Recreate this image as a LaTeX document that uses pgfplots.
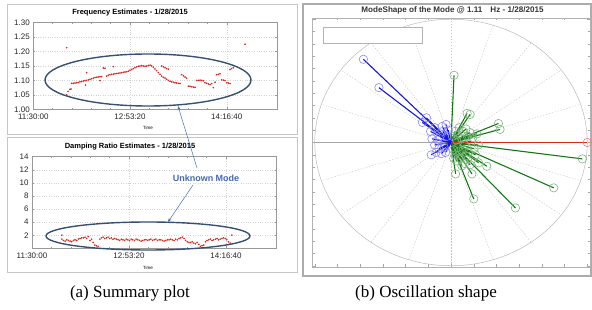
\documentclass[border=0pt]{standalone}
\usepackage{fontspec}
\setmainfont{Liberation Sans}
\newfontfamily\capfont{Liberation Serif}
\usepackage{pgfplots}
\pgfplotsset{compat=1.18}
\usepackage{pgfplotstable}
\usetikzlibrary{arrows.meta}
\definecolor{ellc}{RGB}{55,80,115}
\definecolor{arrc}{RGB}{70,110,170}
\definecolor{modeblue}{RGB}{70,105,170}
\definecolor{mgreen}{RGB}{20,120,20}
\definecolor{mblue}{RGB}{20,20,230}
\definecolor{mred}{RGB}{215,40,30}

\pgfplotstableread{
t f
43124 1.2135
43124 1.050
43200 1.062
43296 1.069
43350 1.070
43383 1.090
43469 1.090
43555 1.091
43641 1.092
43727 1.093
43814 1.095
43900 1.096
43986 1.098
44072 1.099
44158 1.100
44158 1.127
44100 1.084
44245 1.102
44331 1.104
44417 1.106
44503 1.108
44590 1.110
44676 1.111
44762 1.112
44848 1.100
44848 1.113
44934 1.113
45020 1.143
45106 1.142
45193 1.115
45279 1.118
45365 1.120
45451 1.121
45538 1.148
45538 1.122
45624 1.123
45710 1.124
45796 1.125
45882 1.126
45968 1.127
46055 1.128
46141 1.129
46227 1.130
46313 1.132
46400 1.135
46486 1.138
46572 1.141
46658 1.144
46744 1.147
46830 1.149
46917 1.150
47003 1.151
47089 1.150
47175 1.149
47262 1.150
47348 1.152
47434 1.153
47520 1.150
47606 1.146
47692 1.140
47779 1.134
47865 1.127
47951 1.121
48037 1.115
48124 1.111
48210 1.108
48296 1.104
48382 1.100
48468 1.097
48037 1.150
48124 1.147
48210 1.144
48296 1.141
48382 1.139
48554 1.095
48641 1.094
48727 1.092
48813 1.091
48900 1.090
48986 1.089
49072 1.120
49158 1.116
49244 1.112
49330 1.108
49416 1.080
49503 1.080
49589 1.078
49675 1.077
49761 1.076
49848 1.100
49934 1.100
50020 1.101
50106 1.100
50192 1.099
50279 1.092
50365 1.090
50451 1.088
50537 1.086
50624 1.089
50710 1.075
50796 1.094
50882 1.120
50968 1.121
51054 1.123
51140 1.102
51227 1.101
51313 1.100
51400 1.092
51486 1.091
51572 1.089
51572 1.138
51658 1.141
51744 1.144
52347 1.225
}\freqtab

\pgfplotstableread{
t d
42938 2.0
42938 1.4
43025 1.2
43110 1.1
43195 1.3
43280 1.2
43365 1.1
43450 1.0
43535 1.2
43620 1.3
43705 1.2
43790 1.4
43875 1.5
43960 1.6
44045 1.6
44130 1.7
44215 1.5
44300 1.8
44385 1.2
44470 1.4
44555 0.9
44640 0.5
44725 0.4
44810 0.3
44895 1.4
44980 1.6
45065 1.7
45150 1.5
45235 1.6
45320 1.7
45405 1.5
45490 1.6
45575 1.4
45660 1.5
45745 1.4
45830 1.3
45915 1.2
46000 1.4
46085 1.3
46170 1.2
46255 1.4
46340 1.3
46425 1.2
46510 1.4
46595 1.3
46680 1.2
46765 1.4
46850 1.3
46935 1.2
47020 1.1
47105 1.2
47190 1.3
47275 1.3
47360 1.2
47445 1.3
47530 1.4
47615 1.2
47700 1.3
47785 1.4
47870 1.2
47955 1.3
48040 1.3
48125 1.2
48210 1.1
48295 1.2
48380 1.3
48465 1.3
48550 1.4
48635 1.3
48720 1.2
48805 1.4
48890 1.3
48975 1.5
49060 1.6
49145 1.7
49230 1.5
49315 1.2
49400 1.0
49485 0.9
49570 0.9
49655 1.0
49740 0.8
49825 0.7
49910 0.9
49995 0.6
50080 0.3
50165 0.4
50250 0.5
50335 1.0
50420 1.2
50505 1.3
50590 1.4
50675 1.2
50760 1.3
50845 1.4
50930 1.5
51015 1.3
51100 1.4
51185 1.5
51270 1.6
51355 1.5
51440 1.3
51525 1.0
51610 0.8
51700 2.0
}\damptab

\pgfplotstableread{
x y u v
0 0 0.022 0.545
0 0 0.118 0.236
0 0 0.140 0.228
0 0 0.348 0.154
0 0 0.360 0.106
0 0 0.964 -0.133
0 0 0.754 -0.368
0 0 0.473 -0.531
0 0 0.167 -0.458
0 0 0.154 -0.255
0 0 0.034 -0.255
0 0 0.263 -0.193
0 0 0.203 -0.165
0 0 0.05 0.06
0 0 0.08 0.03
0 0 0.10 -0.02
0 0 0.06 -0.07
0 0 0.03 -0.10
0 0 0.12 0.05
0 0 0.09 0.09
0 0 0.04 0.02
0 0 0.05 -0.04
0 0 0.13 -0.08
0 0 0.07 -0.13
0 0 0.15 0.01
0 0 0.11 -0.11
0 0 0.02 -0.06
0 0 0.17 -0.05
0 0 0.14 0.08
0 0 0.06 0.12
0 0 0.10 -0.17
0 0 0.04 -0.15
0 0 0.18 -0.10
0 0 0.01 0.05
0 0 0.09 -0.06
0 0 0.12 -0.14
0 0 0.03 0.09
0 0 0.16 0.04
0 0 0.20 -0.02
0 0 0.08 -0.19
0 0 0.14 -0.18
0 0 0.19 0.07
0 0 0.02 -0.13
0 0 0.11 0.11
}\greentab

\pgfplotstableread{
x y u v
0 0 -0.643 0.675
0 0 -0.529 0.445
0 0 -0.21 0.163
0 0 -0.18 0.20
0 0 -0.065 0.13
0 0 -0.036 0.146
0 0 -0.15 0.09
0 0 -0.145 -0.10
0 0 -0.11 -0.08
0 0 -0.12 0.12
0 0 -0.08 0.05
0 0 -0.06 0.09
0 0 -0.10 0.02
0 0 -0.05 -0.04
0 0 -0.09 -0.05
0 0 -0.03 0.05
0 0 -0.14 0.03
0 0 -0.07 -0.09
0 0 -0.02 0.10
0 0 -0.12 -0.02
0 0 -0.04 -0.08
}\bluetab

\pgfplotstableread{
x y u v
0 0 1.0 0.0
}\redtab

\begin{document}
\begin{tikzpicture}
\useasboundingbox (0pt,0pt) rectangle (592pt,310pt);
% panel frames
\draw[gray!45, line width=1pt] (7pt,175pt) rectangle (297pt,305pt);
\draw[gray!45, line width=1pt] (7pt,37pt) rectangle (297pt,172pt);
\draw[gray!65, line width=2pt] (303pt,34pt) rectangle (591pt,306pt);

\pgfplotsset{
  leftax/.style={
    anchor=south west, scale only axis,
    xmin=41400, xmax=54000,
    xtick={41400,46400,51400}, xticklabels={11:30:00,12:53:20,14:16:40},
    scaled x ticks=false,
    /pgf/number format/assume math mode=true,
    tick label style={font=\fontsize{8}{9}\selectfont, text=black!85},
    axis line style={gray!80}, tick style={gray!80, line width=0.4pt},
    major tick length=2pt, minor tick length=1.5pt, minor x tick num=4,
    grid=major, grid style={gray!35, dotted},
    xticklabel style={yshift=-1pt},
  }
}

\begin{axis}[leftax,
  at={(33.3pt,200.7pt)}, width=243.7pt, height=86.6pt,
  ymin=1.0, ymax=1.3,
  ytick={1,1.05,1.1,1.15,1.2,1.25,1.3},
  yticklabel style={/pgf/number format/.cd, fixed, fixed zerofill, precision=2},
]
\addplot[only marks, mark=*, mark size=0.6pt, mred] table[x=t,y=f] {\freqtab};
\end{axis}

\begin{axis}[leftax,
  at={(32pt,61.7pt)}, width=244.5pt, height=91.6pt,
  ymin=0, ymax=14,
  ytick={2,4,...,14},
]
\addplot[only marks, mark=*, mark size=0.6pt, mred] table[x=t,y=d] {\damptab};
\end{axis}

\begin{axis}[
  at={(312pt,43pt)}, anchor=south west, scale only axis,
  width=278pt, height=249pt,
  xmin=-1.02, xmax=1.02, ymin=-1.01, ymax=1.01,
  xtick distance=0.16667, ytick distance=0.1,
  xticklabels=\empty, yticklabels=\empty,
  tick align=inside, major tick length=2.5pt,
  axis line style={gray!60}, tick style={gray!70, line width=0.4pt},
]
\pgfplotsinvokeforeach{0,...,19}{
  \draw[gray!45, dash pattern=on 1.5pt off 1.5pt, line width=0.4pt] (axis cs:0,0) -- (axis cs:{cos(18*#1)},{sin(18*#1)});
}
\draw[gray!55, line width=0.5pt] (axis cs:0,0) ellipse [x radius=1, y radius=1];
\draw[gray!70, line width=0.5pt] (axis cs:-1,0) -- (axis cs:1,0);
\addplot[quiver={u=\thisrow{u},v=\thisrow{v}}, mgreen, line width=1.1pt] table[x=x,y=y] {\greentab};
\addplot[only marks, mark=o, mark size=4.2pt, mgreen!55, mark options={line width=0.6pt}] table[x=u,y=v] {\greentab};
\addplot[quiver={u=\thisrow{u},v=\thisrow{v}}, mblue, line width=1.1pt] table[x=x,y=y] {\bluetab};
\addplot[only marks, mark=o, mark size=4.2pt, mblue!50, mark options={line width=0.6pt}] table[x=u,y=v] {\bluetab};
\addplot[quiver={u=\thisrow{u},v=\thisrow{v}}, mred, line width=1.1pt] table[x=x,y=y] {\redtab};
\addplot[only marks, mark=o, mark size=4.2pt, mred!60, mark options={line width=0.6pt}] table[x=u,y=v] {\redtab};
\end{axis}

% annotations
\draw[ellc, line width=1.4pt] (148pt,230pt) ellipse [x radius=103pt, y radius=26pt];
\draw[ellc, line width=1.4pt] (148pt,74pt) ellipse [x radius=102pt, y radius=14pt];
\draw[arrc, line width=0.5pt, -{Stealth[length=4pt,width=3pt]}] (197pt,142pt) -- (178pt,204pt);
\draw[arrc, line width=0.5pt, -{Stealth[length=4pt,width=3pt]}] (193pt,125pt) -- (168pt,88pt);
\node[text=modeblue, font=\fontsize{9}{10}\selectfont\bfseries] at (206pt,132pt) {Unknown Mode};

\node[font=\fontsize{7.5}{9}\selectfont\bfseries] at (130pt,297pt) {Frequency Estimates - 1/28/2015};
\node[font=\fontsize{7.5}{9}\selectfont\bfseries] at (130pt,163pt) {Damping Ratio Estimates - 1/28/2015};
\node[font=\fontsize{4.5}{5}\selectfont] at (148pt,182pt) {Time};
\node[font=\fontsize{4.5}{5}\selectfont] at (148pt,42pt) {Time};
\node[font=\fontsize{8.1}{9}\selectfont\bfseries, text=black!80] at (452.5pt,300pt) {ModeShape of the Mode @ 1.11\quad Hz - 1/28/2015};
\draw[gray!60, fill=white, line width=0.5pt] (323pt,283pt) rectangle (422pt,267pt);

\node[font=\capfont\fontsize{17}{19}\selectfont] at (130pt,17pt) {(a) Summary plot};
\node[font=\capfont\fontsize{17}{19}\selectfont] at (426pt,17pt) {(b) Oscillation shape};
\end{tikzpicture}
\end{document}
